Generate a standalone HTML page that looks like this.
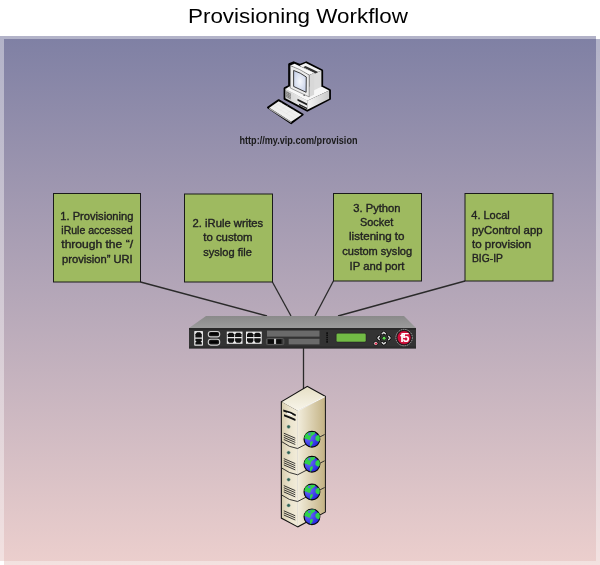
<!DOCTYPE html>
<html><head><meta charset="utf-8">
<style>
html,body{margin:0;padding:0;background:#fff;}
body{width:600px;height:565px;overflow:hidden;}
svg{display:block;will-change:transform;}
text{font-family:"Liberation Sans",sans-serif;}
</style></head>
<body>
<svg width="600" height="565" viewBox="0 0 600 565">
<defs>
<linearGradient id="bg" x1="0" y1="36" x2="0" y2="565" gradientUnits="userSpaceOnUse">
<stop offset="0" stop-color="#7F80A4"/>
<stop offset="1" stop-color="#ECCFCD"/>
</linearGradient>
</defs>
<rect x="0" y="0" width="600" height="565" fill="#fff"/>
<!-- soft shadow strips -->
<g opacity="0.6">
<rect x="0" y="36" width="596" height="525" fill="url(#bg)"/>
<rect x="596" y="39" width="4" height="526" fill="url(#bg)"/>
<rect x="4" y="561" width="592" height="4" fill="url(#bg)"/>
</g>
<rect x="4" y="39" width="592" height="522" fill="url(#bg)"/>

<!-- title -->
<text x="188" y="23" font-size="20" fill="#000" textLength="220" lengthAdjust="spacingAndGlyphs">Provisioning Workflow</text>

<!-- connector lines -->
<g stroke="#2a2a2a" stroke-width="1.3" fill="none">
<line x1="140.5" y1="282" x2="267" y2="316"/>
<line x1="272.4" y1="282" x2="291" y2="316"/>
<line x1="333.4" y1="281" x2="315" y2="316"/>
<line x1="465" y1="281" x2="338" y2="316"/>
<line x1="303.5" y1="348" x2="303.5" y2="390"/>
</g>

<!-- computer -->
<defs>
<radialGradient id="scr" cx="0.5" cy="0.5" r="0.6"><stop offset="0" stop-color="#f6f8fc"/><stop offset="1" stop-color="#c6d0e8"/></radialGradient>
<linearGradient id="bside" x1="0" y1="0" x2="1" y2="0"><stop offset="0" stop-color="#f4f4f4"/><stop offset="1" stop-color="#c9c9c9"/></linearGradient>
<linearGradient id="bfront" x1="0" y1="0" x2="1" y2="0"><stop offset="0" stop-color="#d0d0d0"/><stop offset="1" stop-color="#f0f0f0"/></linearGradient>
</defs>
<g transform="translate(262,95) scale(0.08333)">
<polygon points="70,150 200,60 490,235 350,340" fill="#000" stroke="#000" stroke-width="20" stroke-linejoin="round"/>
<polygon points="88,152 200,75 475,238 350,322" fill="#efefef"/>
<polygon points="88,152 350,322 350,336 82,168" fill="#b0b0b0"/>
<g stroke="#d6d6d6" stroke-width="3" fill="none">
<path d="M130,125 L395,285 M165,100 L430,260"/>
<path d="M150,140 L240,85 M220,180 L310,125 M290,225 L380,170"/>
</g>
</g>
<g transform="translate(280,58) scale(0.09737)">
<polygon points="95,65 140,45 205,72 270,45 432,128 432,290 512,330 512,420 280,540 48,420 48,310 95,288" fill="#000" stroke="#000" stroke-width="22" stroke-linejoin="round"/>
<!-- base -->
<polygon points="55,318 95,292 430,294 505,335 280,440" fill="#f7f7f7"/>
<polygon points="55,318 280,440 280,532 55,414" fill="url(#bfront)"/>
<polygon points="280,440 505,335 505,418 280,532" fill="url(#bside)"/>
<line x1="55" y1="318" x2="280" y2="440" stroke="#fff" stroke-width="6"/>
<g stroke="#555" stroke-width="6">
<path d="M62,348 L112,374 M62,364 L112,390 M62,380 L112,406 M62,396 L112,422"/>
<path d="M72,340 L72,400 M88,348 L88,410 M104,356 L104,418" stroke-width="4"/>
</g>
<polygon points="180,418 278,468 278,488 180,438" fill="#222"/>
<polygon points="195,470 278,512 278,526 195,484" fill="#222"/>
<!-- CRT back -->
<polygon points="200,80 265,52 425,130 345,160" fill="#f3f3f3"/>
<polygon points="345,160 425,130 425,295 345,335" fill="#dcdcdc"/>
<polygon points="262,82 392,145 365,158 238,96" fill="#333"/>
<!-- bezel -->
<polygon points="105,78 150,60 350,155 300,175" fill="#f8f8f8"/>
<polygon points="300,175 350,155 350,378 300,400" fill="#d8d8d8"/>
<path d="M105,78 Q200,110 300,175 L300,400 L105,308 Z" fill="#ebebeb" stroke="#444" stroke-width="5"/>
<path d="M140,128 Q210,150 270,195 L268,352 L140,292 Z" fill="url(#scr)" stroke="#222" stroke-width="9"/>
<circle cx="248" cy="382" r="7" fill="#333"/>
</g>
<!-- url -->
<text x="239.5" y="144" font-size="10" font-weight="bold" fill="#1a1a1a" textLength="118" lengthAdjust="spacingAndGlyphs">http://my.vip.com/provision</text>

<!-- boxes -->
<g fill="#9EBA60" stroke="#1a1a1a" stroke-width="1">
<rect x="53.5" y="193.5" width="87" height="88.5"/>
<rect x="184.5" y="194" width="88" height="88"/>
<rect x="333.5" y="193.5" width="88" height="87.5"/>
<rect x="465" y="193.5" width="88" height="87.5"/>
</g>
<g font-size="10.4" fill="#222" stroke="#222" stroke-width="0.35">
<text x="60.3" y="219.6" textLength="73.1" lengthAdjust="spacingAndGlyphs">1. Provisioning</text>
<text x="61.3" y="234.0" textLength="71.4" lengthAdjust="spacingAndGlyphs">iRule accessed</text>
<text x="61.3" y="248.2" textLength="71.7" lengthAdjust="spacingAndGlyphs">through the “/</text>
<text x="62.1" y="263.0" textLength="70.6" lengthAdjust="spacingAndGlyphs">provision” URI</text>
<text x="192.6" y="227.0" textLength="70.6" lengthAdjust="spacingAndGlyphs">2. iRule writes</text>
<text x="203.3" y="241.4" textLength="49.2" lengthAdjust="spacingAndGlyphs">to custom</text>
<text x="203.3" y="255.7" textLength="48.5" lengthAdjust="spacingAndGlyphs">syslog file</text>
<text x="353.3" y="211.7" textLength="47.2" lengthAdjust="spacingAndGlyphs">3. Python</text>
<text x="360.0" y="226.3" textLength="33.2" lengthAdjust="spacingAndGlyphs">Socket</text>
<text x="349.0" y="240.4" textLength="55.5" lengthAdjust="spacingAndGlyphs">listening to</text>
<text x="342.3" y="255.1" textLength="69.8" lengthAdjust="spacingAndGlyphs">custom syslog</text>
<text x="349.6" y="270.0" textLength="54.9" lengthAdjust="spacingAndGlyphs">IP and port</text>
<text x="471.3" y="219.0" textLength="38.5" lengthAdjust="spacingAndGlyphs">4. Local</text>
<text x="472.0" y="233.7" textLength="70.5" lengthAdjust="spacingAndGlyphs">pyControl app</text>
<text x="472.0" y="248.3" textLength="59.2" lengthAdjust="spacingAndGlyphs">to provision</text>
<text x="472.0" y="262.3" textLength="30.9" lengthAdjust="spacingAndGlyphs">BIG-IP</text>
</g>

<!-- F5 device -->
<defs><linearGradient id="dtop" x1="0" y1="316" x2="0" y2="328" gradientUnits="userSpaceOnUse"><stop offset="0" stop-color="#8a8a8a"/><stop offset="1" stop-color="#9c9c9c"/></linearGradient></defs>
<polygon points="189,328 206,316 404,316 416,328" fill="url(#dtop)"/>
<rect x="189" y="328" width="227" height="20.4" fill="#333"/>
<rect x="189" y="346.4" width="227" height="2" fill="#2b2b2b"/>
<rect x="189" y="328" width="227" height="2" fill="#292929"/>
<!-- port 1 -->
<rect x="194.2" y="331" width="8.8" height="14.8" rx="0.8" fill="#e4e4e4"/>
<path d="M195.4,337.4 v-3.2 l1.6,-1.9 h3.2 l1.6,1.9 v3.2 z" fill="#111"/>
<path d="M195.4,338.7 h6.4 v2 l-1.2,0.9 l1.2,0.9 v2 h-6.4 v-2 l1.2,-0.9 l-1.2,-0.9 z" fill="#111"/>
<!-- port 2 usb -->
<rect x="208.3" y="331.5" width="11.4" height="5.4" rx="2.5" fill="#151515" stroke="#cfcfcf" stroke-width="1.1"/>
<rect x="208.3" y="339.3" width="11.4" height="5.8" rx="2.5" fill="#151515" stroke="#cfcfcf" stroke-width="1.1"/>
<g fill="#000"><rect x="210.3" y="333" width="7.4" height="1.6"/><rect x="210.3" y="341.2" width="7.4" height="1.8"/></g>
<!-- RJ45 groups -->
<g id="rj">
<rect x="226.8" y="331.6" width="15.7" height="12.2" fill="#ececec"/>
<g fill="#111">
<path d="M227.8,337.1 v-2.8 l1.4,-1.6 h3.6 l1.4,1.6 v2.8 z"/>
<path d="M235.1,337.1 v-2.8 l1.4,-1.6 h3.6 l1.4,1.6 v2.8 z"/>
<path d="M227.8,338.3 v2.8 l1.4,1.6 h3.6 l1.4,-1.6 v-2.8 z"/>
<path d="M235.1,338.3 v2.8 l1.4,1.6 h3.6 l1.4,-1.6 v-2.8 z"/>
</g>
</g>
<use href="#rj" x="19.2"/>
<!-- gray bars -->
<rect x="267" y="330.6" width="52.5" height="6" fill="#6a6a6a"/>
<rect x="266.4" y="338.6" width="17.4" height="6" rx="1.2" fill="#3a3a3a" stroke="#5e5e5e" stroke-width="0.9"/>
<rect x="274" y="338.8" width="2.2" height="5.2" fill="#c4c4c4"/>
<rect x="268" y="339.3" width="5.9" height="4.5" fill="#0c0c0c"/>
<rect x="276.2" y="339.3" width="5.3" height="4.5" fill="#0c0c0c"/>
<rect x="288.7" y="338.8" width="30.8" height="5.6" fill="#6a6a6a"/>
<line x1="327.1" y1="332.3" x2="327.1" y2="342.8" stroke="#0a0a0a" stroke-width="1.5" stroke-dasharray="1.6 0.6"/>
<!-- LCD -->
<rect x="336.2" y="333.2" width="29.8" height="8.8" rx="1.5" fill="#72bb45" stroke="#1c1c1c" stroke-width="0.5"/>
<!-- nav -->
<g fill="none" stroke-linecap="round" stroke-linejoin="round">
<g stroke="#000" stroke-width="2.8">
<path d="M382.2,333.8 L383.8,332.4 L385.4,333.8"/>
<path d="M382.2,342.6 L383.8,344 L385.4,342.6"/>
<path d="M379.3,336.4 L378,338 L379.3,339.6"/>
<path d="M388.7,336.4 L390,338 L388.7,339.6"/>
</g>
<g stroke="#d8d8d8" stroke-width="1.5">
<path d="M382.2,333.8 L383.8,332.4 L385.4,333.8"/>
<path d="M382.2,342.6 L383.8,344 L385.4,342.6"/>
<path d="M379.3,336.4 L378,338 L379.3,339.6"/>
<path d="M388.7,336.4 L390,338 L388.7,339.6"/>
</g>
</g>
<path d="M384.1,335.9 L386.4,338.2 L384.1,340.5 L381.8,338.2 z" fill="#5ada4a" stroke="#111" stroke-width="0.7"/>
<circle cx="375.8" cy="343.5" r="2.1" fill="#e8e8e8" stroke="#000" stroke-width="0.7"/>
<circle cx="376" cy="343.6" r="1.2" fill="#e03050"/>
<!-- f5 logo -->
<circle cx="404.1" cy="337.6" r="8.2" fill="#1e1e1e" stroke="#b4b4b4" stroke-width="0.9" stroke-dasharray="1.4 0.8"/>
<circle cx="404.1" cy="337.6" r="6.9" fill="#d20f3b" stroke="#111" stroke-width="0.5"/>
<text x="404" y="342.4" font-size="12.5" font-weight="bold" fill="#fff" text-anchor="middle" letter-spacing="-1.6">f5</text>

<!-- server -->
<defs>
<linearGradient id="sside" x1="0" y1="0" x2="1" y2="0">
<stop offset="0" stop-color="#f2eddc"/><stop offset="1" stop-color="#c4b385"/>
</linearGradient>
<linearGradient id="stop" x1="0" y1="0" x2="0" y2="1">
<stop offset="0" stop-color="#e6e0c6"/><stop offset="1" stop-color="#f8f5ea"/>
</linearGradient>
<linearGradient id="sfront" x1="0" y1="0" x2="1" y2="0">
<stop offset="0" stop-color="#d9cfb0"/><stop offset="0.5" stop-color="#ebe4cd"/><stop offset="1" stop-color="#f2ecda"/>
</linearGradient>
<radialGradient id="globe" cx="0.3" cy="0.35" r="0.8">
<stop offset="0" stop-color="#7070f8"/><stop offset="1" stop-color="#1a1ae0"/>
</radialGradient>
</defs>
<polygon points="307.3,385.7 325.9,396.1 325.9,512.2 297.9,527.5 280.8,518.4 280.8,401.4" fill="#111"/>
<polygon points="307.3,386.9 324.9,396.7 297.6,410.8 281.9,402.1" fill="url(#stop)"/>
<polygon points="281.9,402.1 297.6,410.8 297.6,526.3 281.9,517.7" fill="url(#sfront)"/>
<polygon points="297.6,410.8 324.9,396.7 324.9,511.7 297.6,526.3" fill="url(#sside)"/>
<line x1="297.6" y1="410.8" x2="324.9" y2="396.7" stroke="#fff" stroke-width="0.9"/>
<line x1="297.6" y1="410.6" x2="297.6" y2="526" stroke="#fbf8ee" stroke-width="0.7"/>
<!-- unit dividers -->
<g fill="none" stroke="#222" stroke-width="0.9">
<path d="M282,441.8 Q289,447.5 297.6,448.5 L324.6,434.5"/>
<path d="M282,468.2 Q289,473.5 297.6,474.8 L324.6,460.8"/>
<path d="M282,495.2 Q289,500.5 297.6,501.5 L324.6,487.5"/>
</g>
<!-- unit 1 drive slot -->
<path d="M283.3,409.6 Q290,411.2 295.9,414.6 L295.6,416.2 Q290,413.6 283.3,411.6 Z" fill="#111"/>
<path d="M284,414.2 Q290,416.4 295.6,419 L295.3,421 Q290,418.4 284,416.2 Z" fill="#111"/>
<path d="M287,412.5 Q290,413.2 292.5,414.6 L291,415.6 Q289,414.6 287,414.2 Z" fill="#fff"/>
<g fill="#2f6456" stroke="#a4b2a6" stroke-width="0.5">
<circle cx="288.6" cy="426.8" r="1.7"/>
<circle cx="288.6" cy="452.6" r="1.7"/>
<circle cx="288.6" cy="479.6" r="1.7"/>
<circle cx="288.6" cy="505.4" r="1.7"/>
</g>
<g stroke="#1a1a1a" stroke-width="0.85">
<path d="M283.8,433.2 L295.3,438.2 M283.8,435.3 L295.3,440.3 M283.8,437.4 L295.3,442.4 M283.8,439.5 L295.3,444.5"/>
<path d="M283.8,458.6 L295.3,463.6 M283.8,460.7 L295.3,465.7 M283.8,462.8 L295.3,467.8 M283.8,464.9 L295.3,469.9"/>
<path d="M283.8,485.6 L295.3,490.6 M283.8,487.7 L295.3,492.7 M283.8,489.8 L295.3,494.8 M283.8,491.9 L295.3,496.9"/>
<path d="M283.8,510.8 L295.3,515.8 M283.8,512.9 L295.3,517.9 M283.8,515 L295.3,520"/>
</g>
<!-- globes -->
<g id="gl" transform="translate(302.2,429) scale(0.0354)">
<circle cx="275" cy="290" r="222" fill="url(#globe)" stroke="#0a0a0a" stroke-width="34"/>
<path d="M62,230 L95,150 L170,100 L250,90 L345,85 L370,110 L345,150 L300,175 L262,205 L240,250 L232,305 L200,315 L150,292 L95,275 L60,262 Z" fill="#2fd24a"/>
<path d="M165,120 L230,115 L235,175 L200,185 L170,170 Z" fill="#5566f0"/>
<path d="M378,215 L440,168 L480,185 L500,250 L492,330 L452,362 L402,330 L372,290 Z" fill="#2fd24a"/>
<path d="M222,382 L262,342 L302,362 L292,425 L252,482 L232,505 L218,450 Z" fill="#2fd24a"/>
</g>
<use href="#gl" y="25"/>
<use href="#gl" y="52.8"/>
<use href="#gl" y="77.6"/>
</svg>
</body></html>
